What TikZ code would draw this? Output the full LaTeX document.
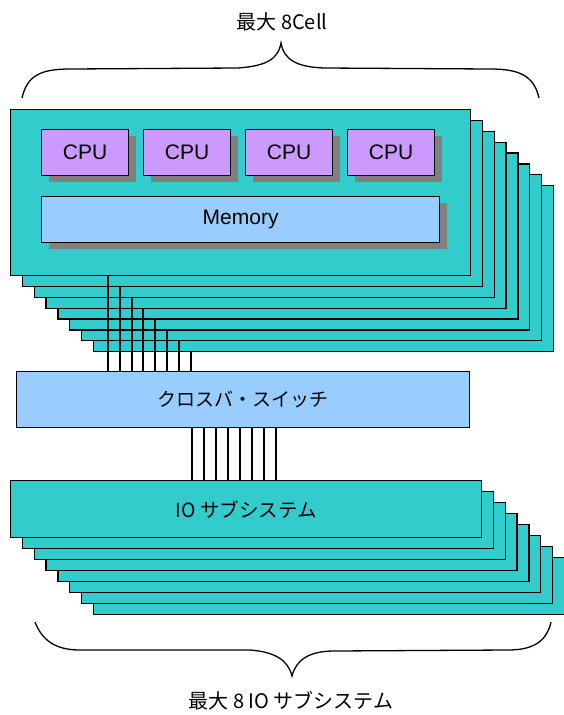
\documentclass[tikz,border=0pt]{standalone}
\usepackage{fontspec}
\setmainfont{Liberation Sans}
\newfontfamily\jpfont{Noto Sans CJK JP}
\usetikzlibrary{calc,shadows}
\definecolor{cellteal}{HTML}{33CCCC}
\definecolor{cpuviolet}{HTML}{CC99FF}
\definecolor{paleblue}{HTML}{99CCFF}
\definecolor{shadowgray}{HTML}{808080}
\begin{document}
\begin{tikzpicture}[x=1pt,y=-1pt,
  box/.style={draw=black, line width=1.3pt, inner sep=0pt, anchor=north west},
  cellbox/.style={box, fill=cellteal, minimum width=460pt, minimum height=166pt},
  iobox/.style={box, fill=cellteal, minimum width=471pt, minimum height=57pt},
  boxshadow/.style={drop shadow={shadow xshift=7pt, shadow yshift=-6pt,
    fill=shadowgray, opacity=1}},
  cpubox/.style={box, boxshadow, fill=cpuviolet, minimum width=87pt, minimum height=46pt,
    font=\fontsize{21}{25}\selectfont},
  membox/.style={box, boxshadow, fill=paleblue, minimum width=398pt, minimum height=46pt,
    font=\fontsize{21}{25}\selectfont},
  xbarbox/.style={box, fill=paleblue, minimum width=453pt, minimum height=56pt,
    font=\jpfont\fontsize{19}{23}\selectfont},
  bus/.style={draw=black, line width=2pt},
  brace/.style={draw=black, line width=1.3pt},
  caption/.style={font=\jpfont\fontsize{20}{24}\selectfont, inner sep=0pt}
]
\useasboundingbox (0,0) rectangle (563,715);

% cell boards, back to front
\foreach \i in {7,6,...,0}
  \node[cellbox] (cell\i) at ({10+11.8*\i},{109+10.86*\i}) {};

% processors and memory on the front board
\foreach \i in {1,...,4}
  \node[cpubox] (cpu\i) at ($(cell0.north west)+({31+102*(\i-1)},20)$) {CPU};
\node[membox] (mem) at ($(cell0.north west)+(31,87)$) {Memory};

% crossbar switch
\node[xbarbox] (xbar) at (16,371) {クロスバ・スイッチ};

% IO subsystem boards, back to front
\foreach \i in {7,6,...,0}
  \node[iobox] (io\i) at ({10+11.8*\i},{480+10.95*\i}) {};
\node[font=\jpfont\fontsize{19.5}{23}\selectfont] (iolabel) at (io0.center) {IO サブシステム};

% cell links into the crossbar
\foreach \i in {0,...,7} {
  \path (cell\i.south west) ++(98,0) coordinate (up\i);
  \draw[bus] (up\i) -- (up\i |- xbar.north);
}
% crossbar links down to the IO boards
\foreach \i in {0,...,7} {
  \path (xbar.south west) ++({176+12*\i},0) coordinate (dn\i);
  \draw[bus] (dn\i) -- (dn\i |- io0.north);
}

% upper brace and caption
\node[caption] (toptext) at (282,22) {最大 8Cell};
\coordinate (ttip) at (281,43);
\draw[brace] (22,98) .. controls (27,76) and (40,69) .. (70,69) -- (238,68)
  .. controls (265,66) and (278,60) .. (ttip)
  .. controls (284,60) and (297,67) .. (324,68) -- (490,69)
  .. controls (520,69) and (534,76) .. (539,98);

% lower brace and caption
\coordinate (btip) at (292,676);
\draw[brace] (35,622) .. controls (42,640) and (55,650) .. (80,650) -- (250,650)
  .. controls (275,652) and (288,660) .. (btip)
  .. controls (296,660) and (309,651) .. (334,651) -- (508,650)
  .. controls (535,650) and (547,640) .. (551,622);
\node[caption] (bottext) at (291,701) {最大 8 IO サブシステム};
\end{tikzpicture}
\end{document}
